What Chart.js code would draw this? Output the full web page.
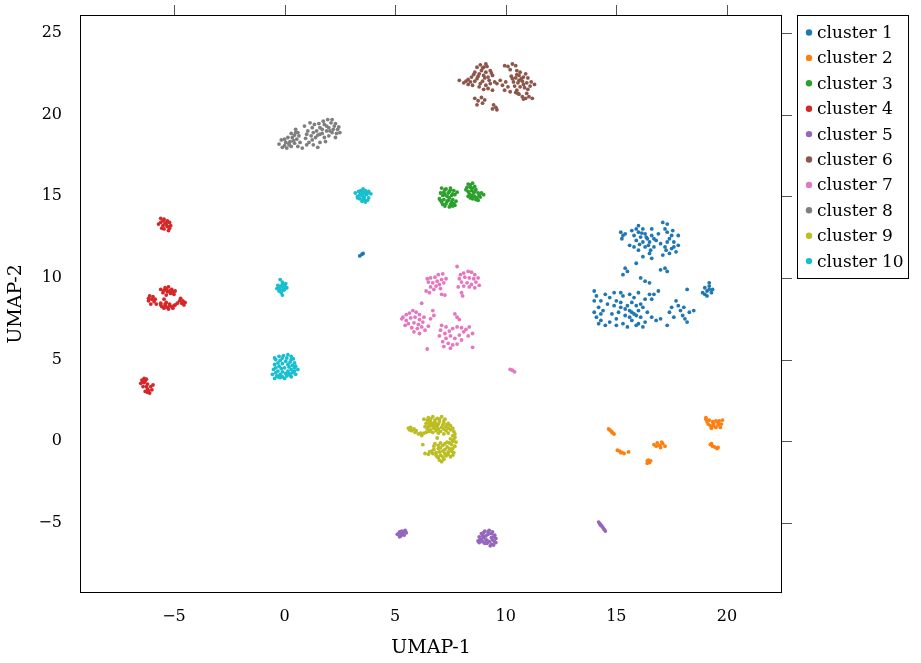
<!DOCTYPE html>
<html>
<head>
<meta charset="utf-8">
<title>UMAP clusters</title>
<script src="https://cdn.jsdelivr.net/npm/chart.js@4.4.1/dist/chart.umd.min.js"></script>
<style>
  html, body { margin: 0; padding: 0; background: #fff; }
  #wrap { width: 921px; height: 663px; position: relative; }
</style>
</head>
<body>
<div id="wrap"><canvas id="umapChart"></canvas></div>
<script>
// axis ranges and tick labels
const xMin = -9.25, xMax = 22.49;
const yMin = -9.29, yMax = 26.1;
const xTicks = [-5, 0, 5, 10, 15, 20];
const yTicks = [-5, 0, 5, 10, 15, 20, 25];

const clusterNames = ["cluster 1", "cluster 2", "cluster 3", "cluster 4", "cluster 5",
  "cluster 6", "cluster 7", "cluster 8", "cluster 9", "cluster 10"];
const clusterColors = ["#1f77b4", "#ff7f0e", "#2ca02c", "#d62728", "#9467bd",
  "#8c564b", "#e377c2", "#7f7f7f", "#bcbd22", "#17becf"];

// points, [UMAP-1, UMAP-2]
const cluster1 = [
  [15.2,12.8],[15.3,12.6],[15.4,12.7],[15.25,12.4],[15.7,12.9],[15.9,13.0],[16.0,12.8],[16.2,13.0],[16.3,12.7],[16.1,12.5],
  [16.4,12.4],[16.6,12.6],[16.5,12.2],[16.2,12.2],[15.9,12.3],[15.8,11.9],[16.0,11.7],[16.3,11.9],[16.7,11.9],[16.8,12.3],
  [16.9,12.7],[17.1,13.4],[17.3,13.3],[17.2,13.0],[17.4,12.4],[17.6,12.2],[17.8,12.0],[17.5,11.8],[17.2,11.9],[17.0,12.1],
  [17.4,11.5],[17.7,11.6],[17.1,11.4],[16.2,11.3],[16.5,11.5],[16.6,11.2],[15.6,12.0],[16.0,13.2],[16.6,13.0],[17.55,12.9],[17.8,12.6],
  [16.15,12.75],[16.35,12.5],[16.05,12.05],[16.45,12.0],[16.7,12.4],[17.3,12.2],[17.5,12.6],[17.6,11.9],[17.25,11.7],[15.8,12.6],
  [16.55,11.7],[17.3,12.8],
  [15.4,10.6],[15.3,10.2],[15.5,10.4],[16.1,10.0],[16.3,9.8],[16.5,9.7],[17.0,10.5],[17.2,10.6],[17.3,10.4],[15.9,10.9],
  [14.0,9.2],[14.1,8.9],[14.0,8.6],[14.2,8.2],[14.0,7.9],[14.1,7.6],[14.3,7.4],[14.5,7.1],[14.4,8.0],[14.6,8.4],
  [14.7,8.8],[14.9,9.1],[15.0,8.6],[15.2,8.2],[14.8,7.8],[15.0,7.5],[15.3,7.2],[15.5,7.0],[15.4,7.7],[15.6,8.0],
  [15.7,8.5],[15.8,8.8],[15.9,8.3],[16.0,8.0],[15.8,7.8],[16.1,7.6],[16.2,8.2],[15.5,8.3],[15.3,8.9],[15.6,9.0],
  [16.0,9.1],[16.3,8.7],[16.4,7.9],[16.6,7.6],[16.3,7.3],[16.0,7.2],[15.7,7.4],[16.8,7.4],[17.0,7.5],[17.3,7.1],
  [16.5,9.0],[16.7,9.0],[16.9,9.2],[16.6,8.7],[14.3,8.6],[14.5,9.0],[14.7,7.3],[15.1,7.9],[15.9,7.1],[15.2,8.5],
  [15.7,7.9],[15.9,7.7],[16.1,8.4],[15.6,7.6],[15.4,8.1],[14.2,7.2],[14.9,8.3],[15.0,7.1],[16.2,7.0],[15.2,9.1],[14.3,7.8],
  [17.5,8.2],[17.7,8.6],[17.9,8.0],[18.0,7.7],[18.1,7.5],[18.3,7.9],[18.5,8.0],[17.8,8.3],[18.2,7.3],[17.4,7.9],[18.2,9.3],
  [18.05,8.2],[17.6,7.6],
  [19.0,9.4],[19.1,9.2],[19.2,9.5],[19.3,9.1],[19.1,8.9],[18.9,9.1],[19.2,9.7],[19.35,9.3],[19.2,9.3],[19.0,9.0],
  [3.4,11.35],[3.5,11.45],[3.55,11.5]
];
const cluster2 = [
  [14.65,0.75],[14.72,0.68],[14.78,0.6],[14.85,0.5],[14.9,0.44],[14.8,0.55],
  [15.05,-0.55],[15.15,-0.6],[15.25,-0.68],[15.35,-0.75],[15.2,-0.7],[15.55,-0.65],
  [16.7,-0.2],[16.85,-0.1],[16.95,-0.25],[17.1,-0.15],[17.2,-0.3],[17.0,-0.38],[16.8,-0.3],[17.05,-0.05],
  [16.4,-1.2],[16.5,-1.3],[16.45,-1.15],[16.55,-1.2],[16.4,-1.35],
  [19.05,1.35],[19.1,1.2],[19.2,1.3],[19.35,1.2],[19.5,1.25],[19.65,1.25],[19.8,1.3],[19.75,1.05],[19.6,1.0],[19.4,0.95],
  [19.3,0.8],[19.5,0.85],[19.7,0.85],[19.15,1.05],[19.25,0.95],[19.05,1.45],[19.4,1.1],[19.6,1.15],
  [19.25,-0.2],[19.35,-0.3],[19.45,-0.35],[19.55,-0.45],[19.6,-0.38],[19.3,-0.15]
];
const cluster3 = [
  [7.1,15.5],[7.3,15.45],[7.5,15.4],[7.65,15.35],[7.2,15.25],[7.4,15.2],[7.6,15.15],[7.8,15.25],[7.15,15.05],[7.35,15.0],[7.55,15.05],
  [7.0,14.85],[7.2,14.8],[7.4,14.75],[7.6,14.8],[7.75,14.7],[7.1,14.65],[7.3,14.55],[7.5,14.5],[7.65,14.55],[7.25,14.4],[7.45,14.35],[7.6,14.4],
  [7.25,15.4],[7.45,15.3],[7.05,15.2],[7.7,15.1],[7.25,15.1],[7.45,14.9],[7.05,14.75],[7.55,14.65],[7.35,14.7],[7.15,14.5],[7.7,14.45],[7.5,15.5],
  [8.3,15.75],[8.5,15.8],[8.6,15.6],[8.4,15.55],[8.2,15.4],[8.45,15.35],[8.65,15.4],[8.55,15.2],[8.35,15.15],[8.6,15.0],
  [8.8,15.05],[8.9,15.2],[8.7,14.9],[8.5,14.85],[8.75,14.75],[8.3,15.0],
  [8.4,15.7],[8.5,15.5],[8.3,15.3],[8.6,15.3],[8.75,15.2],[8.45,15.05],[8.65,14.8],[8.85,14.95],[8.4,14.9],[8.25,15.55],[9.0,15.1]
];
const cluster4 = [
  [-5.6,13.65],[-5.45,13.6],[-5.3,13.5],[-5.6,13.4],[-5.4,13.35],[-5.2,13.4],[-5.5,13.2],[-5.3,13.15],[-5.15,13.2],[-5.45,13.0],[-5.25,12.9],[-5.7,13.3],
  [-5.5,13.5],[-5.35,13.4],[-5.35,13.25],[-5.2,13.05],[-5.55,13.05],
  [-5.6,9.3],[-5.4,9.4],[-5.25,9.45],[-5.1,9.3],[-4.95,9.2],[-5.5,9.1],[-5.3,9.15],[-5.15,9.05],[-5.0,9.0],[-5.35,8.95],
  [-5.45,9.25],[-5.2,9.2],[-5.05,9.15],[-5.35,9.3],
  [-6.1,8.9],[-5.95,8.85],[-6.15,8.6],[-5.9,8.55],[-6.05,8.4],[-5.8,8.4],[-6.0,8.7],[-6.15,8.75],[-5.85,8.7],
  [-5.6,8.45],[-5.4,8.3],[-5.2,8.4],[-5.0,8.3],[-4.85,8.45],[-5.45,8.15],[-5.25,8.1],[-5.05,8.15],[-5.35,8.5],[-5.55,8.25],
  [-5.2,8.3],[-5.4,8.4],[-5.1,8.25],[-4.95,8.35],[-5.3,8.2],[-5.6,8.35],
  [-4.7,8.75],[-4.6,8.6],[-4.5,8.5],[-4.55,8.35],[-4.75,8.6],[-5.45,8.7],[-4.65,8.45],
  [-6.45,3.75],[-6.35,3.85],[-6.25,3.8],[-6.5,3.55],[-6.35,3.6],[-6.2,3.5],[-6.4,3.35],[-6.2,3.2],[-6.05,3.35],[-6.3,3.05],
  [-6.1,2.95],[-6.0,3.15],[-5.95,3.45],[-6.4,3.65],[-6.3,3.7],[-6.25,3.35],[-6.15,3.1],[-6.2,3.0]
];
const cluster5 = [
  [5.1,-5.7],[5.2,-5.55],[5.3,-5.5],[5.45,-5.45],[5.5,-5.6],[5.35,-5.65],[5.25,-5.8],[5.4,-5.75],[5.2,-5.85],
  [5.3,-5.6],[5.4,-5.55],[5.15,-5.65],[5.3,-5.7],
  [8.8,-5.85],[8.9,-5.65],[9.05,-5.5],[9.25,-5.45],[9.4,-5.55],[9.5,-5.75],[9.55,-5.95],[9.5,-6.15],[9.35,-6.3],[9.15,-6.25],
  [8.95,-6.15],[8.75,-6.1],[9.0,-5.9],[9.2,-5.7],[9.35,-5.9],[9.15,-6.05],[9.45,-6.35],[8.85,-6.0],
  [9.0,-5.6],[9.2,-5.55],[9.35,-5.65],[9.45,-5.85],[9.4,-6.05],[9.25,-6.15],[9.05,-6.25],[8.9,-6.05],[8.95,-5.8],[9.1,-6.05],
  [9.3,-6.4],[9.55,-6.2],[8.8,-6.2],[9.1,-5.8],
  [14.2,-4.95],[14.25,-5.05],[14.3,-5.15],[14.4,-5.3],[14.45,-5.4],[14.5,-5.5],[14.35,-5.2],[14.28,-5.1]
];
const cluster6 = [
  [7.9,22.1],[8.1,21.95],[8.3,21.85],[8.5,21.8],[8.2,22.05],[8.45,22.3],[8.6,22.6],[8.7,22.9],[8.85,23.05],[9.0,22.9],
  [9.15,22.95],[9.3,22.7],[8.8,22.5],[9.0,22.4],[9.2,22.3],[9.4,22.4],[8.7,22.2],[8.95,22.05],[9.1,21.8],[9.3,21.9],
  [8.8,21.7],[9.4,21.5],[9.0,21.55],[9.5,22.0],[8.6,22.05],[9.1,23.1],
  [8.9,22.7],[9.1,22.6],[8.75,22.35],[9.25,22.1],[8.4,22.0],[9.05,22.25],[9.2,21.6],[8.3,22.15],[9.6,21.9],
  [8.55,22.45],[8.95,22.85],[9.35,22.55],[8.85,21.9],
  [8.6,21.0],[8.75,20.85],[8.9,21.05],[8.7,20.6],[8.95,20.7],[9.05,20.9],
  [9.45,20.6],[9.55,20.45],[9.6,20.3],[9.4,20.35],
  [9.95,23.0],[10.1,22.95],[10.3,23.1],[10.45,23.0],[10.2,22.75],[10.5,22.7],
  [9.75,22.1],[9.85,21.8],[9.95,21.5],[10.0,22.0],[10.1,21.7],
  [10.25,22.35],[10.45,22.25],[10.6,22.4],[10.8,22.3],[11.0,22.25],[10.35,22.0],[10.55,21.95],[10.75,22.05],[10.95,21.95],[11.15,22.0],
  [10.4,21.75],[10.65,21.7],[10.85,21.65],[11.1,21.75],[11.3,21.85],[10.5,21.5],
  [10.6,22.1],[10.8,21.85],[10.3,22.2],[11.0,21.55],[10.9,22.5],[10.65,22.6],[10.7,22.2],[10.5,22.45],
  [10.6,21.25],[10.75,21.1],[10.9,21.0],[11.05,21.1],[11.2,21.0],[10.8,20.95],[10.45,21.35],[10.2,21.4],[10.55,21.3],[10.95,21.3]
];
const cluster7 = [
  [6.45,9.95],[6.6,10.0],[6.8,10.05],[6.95,10.2],[7.15,10.25],[6.5,9.75],[6.7,9.7],[6.9,9.8],[7.1,9.9],[7.3,9.95],
  [6.6,9.45],[6.85,9.5],[7.0,9.6],[7.2,9.7],[6.75,9.3],[7.05,9.35],[6.4,9.2],[7.1,9.0],[7.25,8.95],[6.55,9.1],
  [7.8,10.7],[7.95,10.2],[8.1,10.3],[8.3,10.4],[8.45,10.35],[8.6,10.2],[7.9,9.95],[8.15,10.05],[8.35,10.0],[8.55,9.95],
  [8.75,10.0],[8.0,9.75],[8.25,9.7],[8.45,9.6],[8.65,9.75],[8.1,9.5],[8.35,9.45],[8.6,9.4],[7.85,9.45],[8.0,9.1],[8.05,8.9],[8.8,9.55],
  [5.5,7.75],[5.35,7.6],[5.5,7.4],[5.65,7.85],[5.8,8.0],[5.95,7.9],[6.1,7.75],[5.7,7.55],[5.9,7.6],[6.1,7.45],
  [6.3,7.6],[5.6,7.2],[5.85,7.25],[6.05,7.15],[6.25,7.3],[5.45,7.1],[5.75,6.95],[6.0,6.9],[6.2,7.0],[6.35,6.8],
  [6.5,7.05],[6.6,7.5],[6.75,7.7],[5.85,6.7],[6.1,6.6],[6.2,8.45],[6.7,8.0],[5.3,7.5],
  [7.7,7.8],[7.8,7.6],[7.9,7.45],[7.1,7.1],[7.3,7.0],[7.05,6.8],[7.25,6.6],[7.45,6.75],[7.6,6.9],[7.8,7.0],
  [8.0,6.95],[8.2,6.85],[8.35,7.0],[8.1,6.7],[7.9,6.5],[7.7,6.3],[7.5,6.45],[7.3,6.3],[7.15,6.1],[7.4,6.0],
  [7.6,5.9],[7.5,5.7],[7.8,5.95],[8.0,6.2],[8.3,6.45],[8.5,6.6],[7.0,6.45],[8.5,5.75],[6.45,5.65],[7.2,5.8],
  [10.2,4.4],[10.3,4.35],[10.4,4.25]
];
const cluster8 = [
  [-0.25,18.2],[-0.1,18.0],[0.1,17.95],[0.3,18.05],[0.05,18.3],[0.25,18.35],[0.45,18.25],[-0.15,18.45],[0.15,18.6],[0.35,18.6],
  [0.55,18.5],[0.3,18.85],[0.5,18.9],[0.65,18.7],[0.7,18.3],[0.2,18.15],[0.6,18.05],[0.8,17.95],[0.5,19.1],
  [0.0,18.1],[0.2,18.25],[0.4,18.4],[0.0,18.5],[0.45,18.75],[0.6,18.9],
  [0.95,18.55],[1.1,18.3],[1.3,18.15],[1.5,18.0],[1.6,18.3],[1.2,18.7],[1.4,18.6],[1.05,19.0],[1.25,19.2],[1.45,19.0],
  [1.6,18.8],[1.8,18.6],[1.7,19.1],[1.9,19.3],[1.55,19.45],[1.75,19.6],[1.95,19.7],[2.1,19.5],[2.25,19.3],[2.4,19.1],
  [2.5,18.9],[2.15,18.9],[2.0,18.7],[2.3,18.6],[2.45,19.25],[1.35,19.4],[1.85,18.35],[2.05,19.0],[1.15,19.5],[0.9,19.3],
  [1.0,18.8],[1.3,18.9],[1.5,18.75],[1.7,18.85],[1.9,19.0],[2.2,19.1],[2.3,19.45],[2.0,19.2],[1.8,19.4],[2.15,19.7],
  [1.6,19.2],[2.35,18.85],[1.25,18.45],[1.0,18.15]
];
const cluster9 = [
  [6.3,1.35],[6.5,1.45],[6.7,1.5],[6.9,1.4],[7.1,1.5],[7.25,1.35],[6.4,1.1],[6.6,1.2],[6.8,1.15],[7.0,1.2],
  [7.2,1.1],[7.4,1.1],[6.5,0.9],[6.7,0.95],[6.9,0.9],[7.1,0.85],[7.3,0.9],[7.5,0.95],[6.6,0.7],[6.85,0.65],
  [7.05,0.6],[7.3,0.65],[7.5,0.7],[7.65,0.6],[6.4,0.55],[7.2,0.45],[7.6,0.35],
  [6.6,1.35],[6.8,1.3],[7.0,1.35],[7.2,1.25],[6.55,1.05],[6.75,1.05],[6.95,1.05],[7.15,1.0],[7.35,1.0],[6.45,0.75],
  [6.75,0.8],[6.95,0.75],[7.2,0.75],[7.4,0.8],[7.6,0.8],[6.95,0.5],[7.4,0.5],[7.7,0.45],[7.7,0.25],
  [6.5,1.25],[6.7,1.1],[6.6,0.95],[6.8,0.85],[6.55,0.6],[6.7,0.55],[6.85,1.0],[6.45,1.3],[6.35,0.9],
  [5.6,0.8],[5.75,0.65],[5.9,0.55],[6.05,0.45],[6.2,0.35],[5.7,0.85],[6.3,0.5],[5.85,0.75],[5.65,0.7],[5.95,0.65],[6.15,0.5],
  [7.5,0.15],[7.65,0.1],[7.75,-0.05],[7.35,-0.05],[7.55,-0.2],[7.15,-0.25],[7.35,-0.35],[7.6,-0.45],[6.95,-0.45],[7.15,-0.6],
  [7.4,-0.65],[7.65,-0.7],[6.85,-0.7],[7.05,-0.85],[7.3,-0.9],[7.5,-0.95],[7.2,-1.1],[7.0,-1.15],[6.65,-0.6],[6.5,-0.8],
  [6.35,-0.75],[6.25,-0.2],[6.75,-0.3],[7.7,-0.3],
  [7.6,0.0],[7.45,-0.1],[7.25,-0.15],[7.45,-0.45],[7.25,-0.5],[7.05,-0.4],[7.55,-0.6],[7.25,-0.75],[7.0,-0.65],[7.15,-0.95],
  [7.4,-0.8],[6.9,-0.95],[7.1,-1.25],[6.75,-0.5],[6.55,-0.65],[7.6,-0.85],
  [6.9,0.2],[6.8,-0.15],[6.95,-0.25],[7.05,-0.1],[6.85,-0.85],[6.7,-0.75],[6.95,-1.0]
];
const cluster10 = [
  [3.2,15.2],[3.35,15.3],[3.5,15.25],[3.65,15.35],[3.8,15.3],[3.9,15.15],[3.3,15.0],[3.5,15.05],[3.7,15.1],[3.4,14.85],
  [3.6,14.8],[3.8,14.9],[3.5,14.7],[3.65,14.65],[3.55,15.45],
  [3.45,15.35],[3.6,15.2],[3.75,15.2],[3.4,15.1],[3.6,14.95],[3.75,14.75],[3.3,14.9],[3.55,14.85],
  [-0.2,9.9],[-0.1,9.75],[-0.3,9.55],[-0.15,9.5],[0.0,9.55],[0.1,9.4],[-0.35,9.35],[-0.2,9.3],[-0.05,9.25],[-0.15,9.1],[-0.1,8.95],[0.05,9.65],
  [-0.25,9.45],[-0.05,9.4],[-0.25,9.2],[0.0,9.3],[-0.1,9.6],
  [-0.25,5.2],[-0.05,5.25],[0.15,5.3],[0.3,5.2],[0.4,5.05],[-0.4,5.0],[-0.2,4.95],[0.05,4.9],[0.25,4.85],[0.45,4.8],
  [-0.45,4.7],[-0.25,4.6],[0.0,4.5],[0.2,4.55],[0.45,4.5],[0.6,4.4],[-0.5,4.4],[-0.3,4.3],[-0.1,4.25],[0.15,4.3],
  [0.35,4.2],[0.5,4.1],[-0.55,4.1],[-0.35,4.0],[-0.1,3.95],[0.1,4.0],[0.3,3.95],[-0.45,3.85],[-0.2,3.9],
  [-0.1,5.1],[0.1,5.1],[0.3,5.0],[-0.3,4.8],[-0.1,4.75],[0.15,4.7],[0.35,4.65],[-0.4,4.5],[-0.15,4.45],[0.3,4.4],
  [0.05,4.15],[-0.2,4.1],[0.2,4.15],[0.45,4.3],[-0.4,4.2],[0.0,3.85],[0.25,4.05],[-0.3,3.95],[0.5,4.6],[-0.45,5.1]
];

const clusters = [cluster1, cluster2, cluster3, cluster4, cluster5,
  cluster6, cluster7, cluster8, cluster9, cluster10];

const FONT = "'DejaVu Serif', 'Liberation Serif', serif";
Chart.defaults.font.family = FONT;
Chart.defaults.font.size = 16;
Chart.defaults.color = "#000";

function fmtTick(v) {
  return v < 0 ? "\u2212" + Math.abs(v) : String(v);
}

// frame around the plot + outward ticks on top and right
const framePlugin = {
  id: "frame",
  afterDraw(chart) {
    const { ctx, chartArea: a, scales } = chart;
    ctx.save();
    ctx.strokeStyle = "#000";
    ctx.lineWidth = 1;
    ctx.strokeRect(a.left + 0.5, a.top + 0.5, a.right - a.left - 1, a.bottom - a.top - 1);
    ctx.strokeStyle = "#555";
    ctx.beginPath();
    xTicks.forEach((v) => {
      const x = Math.round(scales.x.getPixelForValue(v)) + 0.5;
      ctx.moveTo(x, a.top);
      ctx.lineTo(x, a.top - 10);
    });
    yTicks.forEach((v) => {
      const y = Math.round(scales.y.getPixelForValue(v)) + 0.5;
      ctx.moveTo(a.right, y);
      ctx.lineTo(a.right + 10, y);
    });
    ctx.stroke();
    ctx.restore();
  },
};

// boxed legend on the right
const legendPlugin = {
  id: "boxLegend",
  afterDraw(chart) {
    const { ctx, chartArea: a } = chart;
    const left = 797, top = a.top, w = 111, rowH = 25.4;
    const h = 263;
    ctx.save();
    ctx.fillStyle = "#fff";
    ctx.fillRect(left, top, w, h);
    ctx.strokeStyle = "#000";
    ctx.lineWidth = 1;
    ctx.strokeRect(left + 0.5, top + 0.5, w, h);
    ctx.font = "17px " + FONT;
    ctx.textBaseline = "middle";
    ctx.textAlign = "left";
    chart.data.datasets.forEach((ds, i) => {
      const cy = top + 17.5 + i * rowH;
      ctx.fillStyle = ds.backgroundColor;
      ctx.beginPath();
      ctx.arc(left + 12, cy, 3.2, 0, Math.PI * 2);
      ctx.fill();
      ctx.fillStyle = "#000";
      ctx.fillText(ds.label, left + 20, cy + 1);
    });
    ctx.restore();
  },
};

const ctx = document.getElementById("umapChart").getContext("2d");
const umapChart = new Chart(ctx, {
  type: "scatter",
  data: {
    datasets: clusters.map((pts, i) => ({
      label: clusterNames[i],
      data: pts.map((p) => ({ x: p[0], y: p[1] })),
      backgroundColor: clusterColors[i],
      borderWidth: 0,
      pointRadius: 1.9,
      pointHoverRadius: 1.9,
    })),
  },
  options: {
    responsive: true,
    maintainAspectRatio: false,
    animation: false,
    events: [],
    layout: { padding: { top: 15, right: 139, left: 0, bottom: 0 } },
    plugins: { legend: { display: false }, tooltip: { enabled: false } },
    scales: {
      x: {
        type: "linear",
        min: xMin,
        max: xMax,
        afterBuildTicks: (s) => { s.ticks = xTicks.map((v) => ({ value: v })); },
        afterFit: (s) => { s.height = 70; s.paddingLeft = 0; s.paddingRight = 0; },
        ticks: { callback: fmtTick, padding: 6, maxRotation: 0, autoSkip: false },
        grid: { display: false },
        border: { display: false },
        title: { display: true, text: "UMAP-1", font: { size: 19 }, padding: { top: 0, bottom: 4 } },
      },
      y: {
        type: "linear",
        min: yMin,
        max: yMax,
        afterBuildTicks: (s) => { s.ticks = yTicks.map((v) => ({ value: v })); },
        afterFit: (s) => { s.width = 80; s.paddingTop = 0; s.paddingBottom = 0; },
        ticks: { callback: fmtTick, padding: 10, autoSkip: false },
        grid: { display: false },
        border: { display: false },
        title: { display: true, text: "UMAP-2", font: { size: 19 }, padding: { top: 5, bottom: 0 } },
      },
    },
  },
  plugins: [framePlugin, legendPlugin],
});
</script>
</body>
</html>
